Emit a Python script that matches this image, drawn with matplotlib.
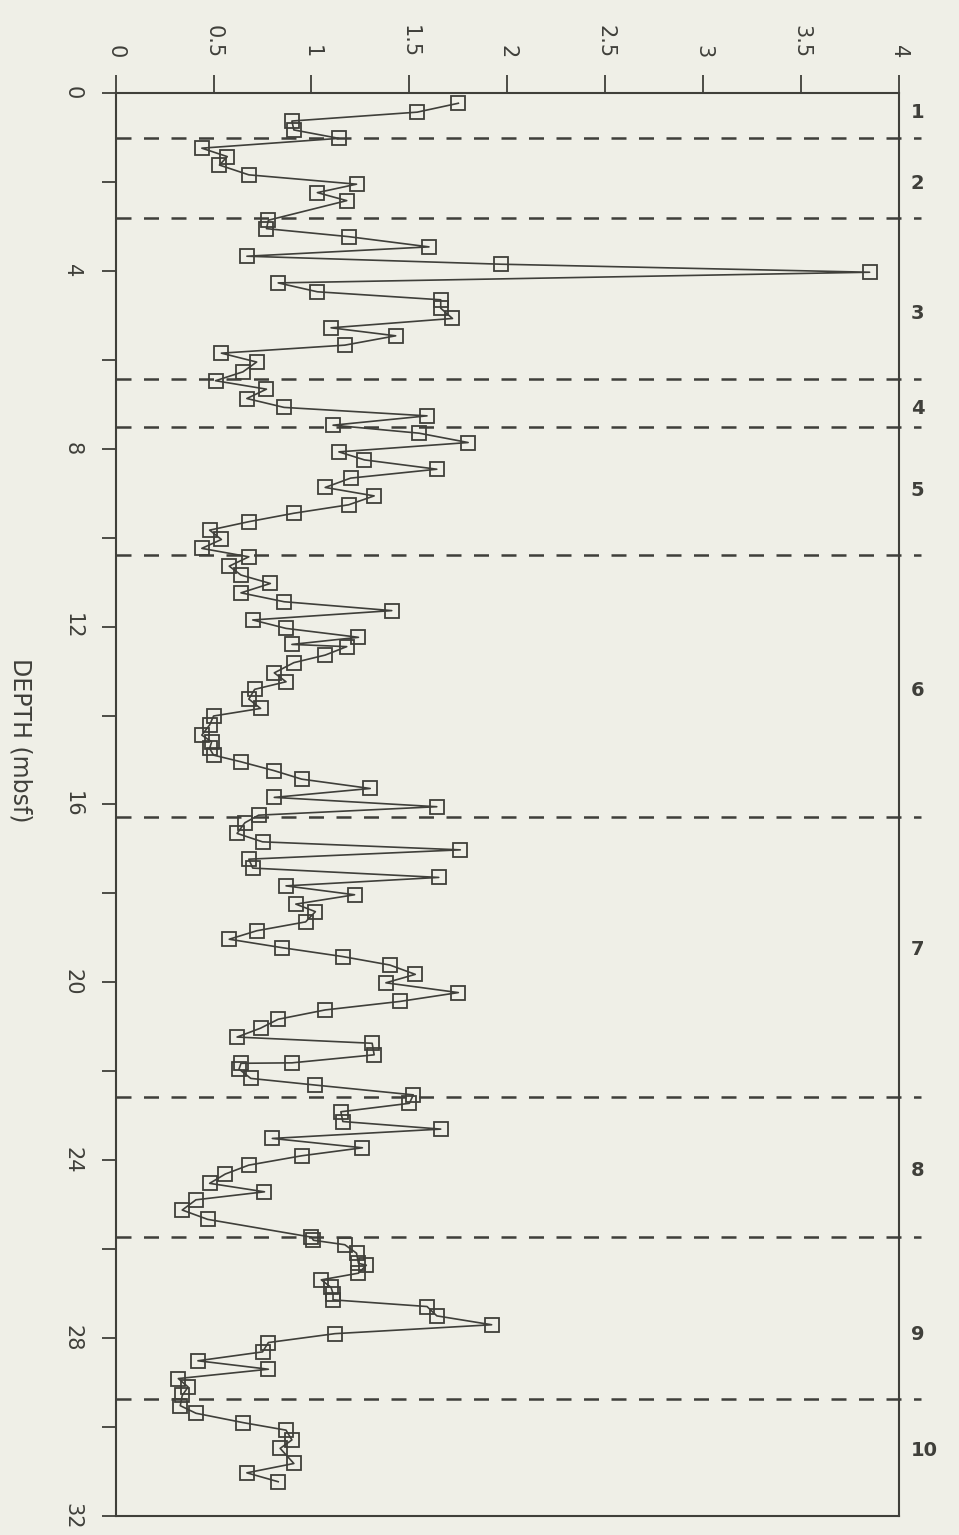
import matplotlib
matplotlib.use('Agg')
import matplotlib.pyplot as plt

depth = [0.23, 0.43, 0.63, 0.83, 1.02, 1.24, 1.43, 1.62, 1.84, 2.05, 2.24, 2.42,
         2.86, 3.05, 3.23, 3.46, 3.67, 3.85, 4.03, 4.27, 4.47, 4.65, 4.84, 5.07,
         5.28, 5.46, 5.67, 5.85, 6.05, 6.27, 6.47, 6.66, 6.87, 7.07, 7.26, 7.47,
         7.65, 7.86, 8.07, 8.25, 8.46, 8.66, 8.87, 9.06, 9.26, 9.45, 9.64, 9.83,
         10.04, 10.24, 10.43, 10.64, 10.84, 11.03, 11.24, 11.44, 11.64, 11.85, 12.04, 12.24,
         12.40, 12.45, 12.64, 12.81, 13.04, 13.24, 13.41, 13.63, 13.84, 14.01, 14.21, 14.44,
         14.59, 14.74, 14.89, 15.04, 15.24, 15.43, 15.64, 15.84, 16.05, 16.24, 16.41, 16.65,
         16.84, 17.02, 17.23, 17.43, 17.64, 17.83, 18.03, 18.24, 18.41, 18.64, 18.84, 19.03,
         19.22, 19.42, 19.61, 19.82, 20.01, 20.23, 20.43, 20.62, 20.83, 21.03, 21.23, 21.37,
         21.63, 21.81, 21.82, 21.95, 22.16, 22.31, 22.53, 22.72, 22.91, 23.13, 23.30, 23.51,
         23.72, 23.90, 24.11, 24.31, 24.52, 24.71, 24.89, 25.12, 25.33, 25.73, 25.80, 25.90,
         26.09, 26.32, 26.36, 26.54, 26.69, 26.86, 27.00, 27.14, 27.29, 27.50, 27.70, 27.90,
         28.10, 28.31, 28.51, 28.70, 28.91, 29.10, 29.29, 29.52, 29.69, 29.90, 30.07, 30.29,
         30.48, 30.82, 31.03, 31.23]
value = [1.75, 1.54, 0.90, 0.91, 1.14, 0.44, 0.57, 0.53, 0.68, 1.23, 1.03, 1.18,
         0.78, 0.77, 1.19, 1.60, 0.67, 1.97, 3.85, 0.83, 1.03, 1.66, 1.66, 1.72,
         1.10, 1.43, 1.17, 0.54, 0.72, 0.65, 0.51, 0.77, 0.67, 0.86, 1.59, 1.11,
         1.55, 1.80, 1.14, 1.27, 1.64, 1.20, 1.07, 1.32, 1.19, 0.91, 0.68, 0.48,
         0.54, 0.44, 0.68, 0.58, 0.64, 0.79, 0.64, 0.86, 1.41, 0.70, 0.87, 1.24,
         0.90, 1.18, 1.07, 0.91, 0.81, 0.87, 0.71, 0.68, 0.74, 0.50, 0.48, 0.44,
         0.49, 0.48, 0.50, 0.64, 0.81, 0.95, 1.30, 0.81, 1.64, 0.73, 0.66, 0.62,
         0.75, 1.76, 0.68, 0.70, 1.65, 0.87, 1.22, 0.92, 1.02, 0.97, 0.72, 0.58,
         0.85, 1.16, 1.40, 1.53, 1.38, 1.75, 1.45, 1.07, 0.83, 0.74, 0.62, 1.31,
         1.32, 0.90, 0.64, 0.63, 0.69, 1.02, 1.52, 1.50, 1.15, 1.16, 1.66, 0.80,
         1.26, 0.95, 0.68, 0.56, 0.48, 0.76, 0.41, 0.34, 0.47, 1.00, 1.01, 1.17,
         1.23, 1.24, 1.28, 1.24, 1.05, 1.10, 1.11, 1.11, 1.59, 1.64, 1.92, 1.12,
         0.78, 0.75, 0.42, 0.78, 0.32, 0.37, 0.34, 0.33, 0.41, 0.65, 0.87, 0.90,
         0.84, 0.91, 0.67, 0.83]

# unit boundaries (dashed) and unit numbers
boundaries = [1.01, 2.80, 6.43, 7.50, 10.40, 16.29, 22.58, 25.72, 29.37]
unit_names = ['1', '2', '3', '4', '5', '6', '7', '8', '9', '10']
unit_depths = [0.43, 2.03, 4.95, 7.09, 8.93, 13.43, 19.27, 24.22, 27.93, 30.52]

bg = '#efefe7'
ink = '#3f3f3a'

fig = plt.figure(figsize=(9.59, 15.35), dpi=100, facecolor=bg)
ax = fig.add_axes([0.1206, 0.0124, 0.8168, 0.9270], facecolor=bg)

ax.plot(value, depth, color=ink, lw=1.2, marker='s', markersize=9.5,
        markerfacecolor='none', markeredgecolor=ink, markeredgewidth=1.3)

for b in boundaries:
    ax.plot([0, 4.11], [b, b], color=ink, lw=1.8, ls=(0, (6, 5)), clip_on=False)

for name, d in zip(unit_names, unit_depths):
    ax.text(4.06, d, name, fontsize=14, fontweight='bold', color=ink,
            ha='left', va='center')

ax.set_xlim(0, 4)
ax.set_ylim(32, 0)

ax.xaxis.tick_top()
ax.set_xticks([0, 0.5, 1, 1.5, 2, 2.5, 3, 3.5, 4])
ax.set_xticklabels(['0', '0.5', '1', '1.5', '2', '2.5', '3', '3.5', '4'])
ax.tick_params(axis='x', which='major', length=13, width=1.3, color=ink,
               labelcolor=ink, labelsize=15, labelrotation=-90, pad=12)

ax.set_yticks(range(0, 33, 4))
ax.set_yticks(range(2, 32, 4), minor=True)
ax.set_yticklabels([str(v) for v in range(0, 33, 4)], rotation=-90, va='center')
ax.tick_params(axis='y', which='both', length=10, width=1.3, color=ink,
               labelcolor=ink, labelsize=15, pad=14)

for s in ax.spines.values():
    s.set_color(ink)
    s.set_linewidth(1.5)

fig.text(20 / 959, 1 - 740 / 1535, 'DEPTH (mbsf)', rotation=-90, fontsize=17,
         color=ink, ha='center', va='center')

fig.savefig('out.png', dpi=100, facecolor=bg)
